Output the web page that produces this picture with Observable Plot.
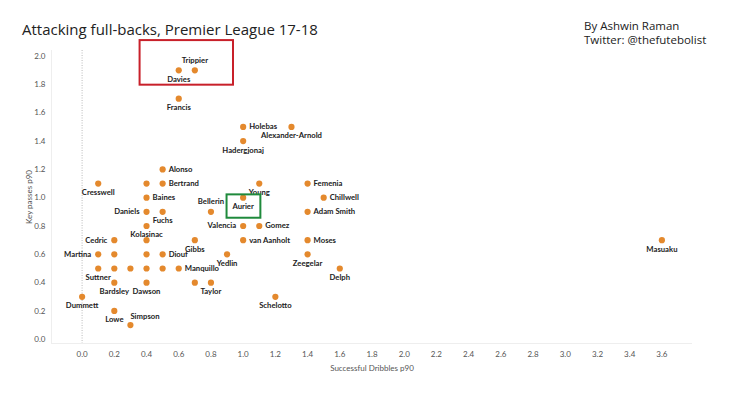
<!DOCTYPE html>
<html>
<head>
<meta charset="utf-8">
<script src="https://cdn.jsdelivr.net/npm/d3@7"></script>
<script src="https://cdn.jsdelivr.net/npm/@observablehq/plot@0.6"></script>
<style>
  html, body { margin: 0; padding: 0; background: #fff; }
  #wrap { position: relative; width: 730px; height: 397px; overflow: hidden; }
  #title { position: absolute; left: 22px; top: 19px; font-family: "Open Sans", sans-serif; font-size: 15px; color: #222; white-space: nowrap; }
  #credit { position: absolute; left: 584px; top: 19px; font-family: "Open Sans", sans-serif; font-size: 11.5px; line-height: 14px; color: #222; white-space: nowrap; }
  #chart { position: absolute; left: 0; top: 0; }
</style>
</head>
<body>
<div id="wrap">
  <div id="chart"></div>
  <div id="title">Attacking full-backs, Premier League 17-18</div>
  <div id="credit">By Ashwin Raman<br>Twitter: @thefutebolist</div>
</div>
<script>
const players = ["Trippier","Davies","Francis","Holebas","Alexander-Arnold","Hadergjonaj","Alonso","Bertrand","","Cresswell",
  "Baines","Daniels","Fuchs","Bellerin","Kolasinac","Valencia","Gomez","Young","Aurier","Femenia",
  "Chillwell","Adam Smith","Cedric","","Gibbs","van Aanholt","Moses","Masuaku","Martina","",
  "","Diouf","Yedlin","Zeegelar","Suttner","","","","","Manquillo",
  "Delph","Bardsley","Dawson","","Taylor","Dummett","Schelotto","Lowe","Simpson"];
const dribbles = [0.7,0.6,0.6,1.0,1.3,1.0,0.5,0.5,0.4,0.1,
  0.4,0.4,0.5,0.8,0.4,1.0,1.1,1.1,1.0,1.4,
  1.5,1.4,0.2,0.4,0.7,1.0,1.4,3.6,0.1,0.2,
  0.4,0.5,0.9,1.4,0.1,0.2,0.3,0.4,0.5,0.6,
  1.6,0.2,0.4,0.7,0.8,0.0,1.2,0.2,0.3];
const keyPasses = [1.9,1.9,1.7,1.5,1.5,1.4,1.2,1.1,1.1,1.1,
  1.0,0.9,0.9,0.9,0.8,0.8,0.8,1.1,1.0,1.1,
  1.0,0.9,0.7,0.7,0.7,0.7,0.7,0.7,0.6,0.6,
  0.6,0.6,0.6,0.6,0.5,0.5,0.5,0.5,0.5,0.5,
  0.5,0.4,0.4,0.4,0.4,0.3,0.3,0.2,0.1];
const labelSide = ["above","below","below","right","below","below","right","right","none","below",
  "right","left","below","above","below","left","right","below","below","right",
  "right","right","left","none","below","right","right","below","left","none",
  "none","right","below","below","below","none","none","none","none","right",
  "below","below","below","none","below","below","below","below","aboveRight"];

const xTicks = [0.0,0.2,0.4,0.6,0.8,1.0,1.2,1.4,1.6,1.8,2.0,2.2,2.4,2.6,2.8,3.0,3.2,3.4,3.6];
const yTicks = [0.0,0.2,0.4,0.6,0.8,1.0,1.2,1.4,1.6,1.8,2.0];

const highlightBoxes = [
  {x1: 0.36, x2: 0.94, y1: 1.795, y2: 2.11, color: "#c8202a"},
  {x1: 0.90, x2: 1.11, y1: 0.855, y2: 1.02, color: "#1f8a3c"}
];

const data = players.map((name, i) => ({name, x: dribbles[i], y: keyPasses[i], side: labelSide[i]}));

const labelFont = {fontSize: 7.7, fontWeight: "bold", fill: "#222", fontFamily: "Lato, sans-serif"};

const chart = Plot.plot({
  width: 730,
  height: 397,
  marginLeft: 51,
  marginRight: 38,
  marginTop: 50,
  marginBottom: 54,
  style: {fontFamily: "Lato, sans-serif", fontSize: "8px", color: "#555", background: "transparent"},
  x: {domain: [-0.19, 3.79], ticks: xTicks, tickFormat: d3.format(".1f"), tickSize: 0, tickPadding: 8,
      label: "Successful Dribbles p90", labelAnchor: "center", labelOffset: 27, labelArrow: "none"},
  y: {domain: [-0.03, 2.04], ticks: yTicks, tickFormat: d3.format(".1f"), tickSize: 0, tickPadding: 6,
      label: "Key passes p90", labelAnchor: "center", labelOffset: 25, labelArrow: "none"},
  marks: [
    Plot.ruleX([0], {stroke: "#bbb", strokeDasharray: "1,1.5", strokeWidth: 1}),
    Plot.ruleY([-0.03], {stroke: "#eee"}),
    Plot.ruleX([-0.19], {stroke: "#eee"}),
    Plot.dot(data, {x: "x", y: "y", r: 3.1, fill: "#e4892d", stroke: "none"}),
    Plot.text(data.filter(d => d.side === "right"), {x: "x", y: "y", text: "name", textAnchor: "start", dx: 6, ...labelFont}),
    Plot.text(data.filter(d => d.side === "left"), {x: "x", y: "y", text: "name", textAnchor: "end", dx: -7, ...labelFont}),
    Plot.text(data.filter(d => d.side === "below"), {x: "x", y: "y", text: "name", dy: 9, ...labelFont}),
    Plot.text(data.filter(d => d.side === "above"), {x: "x", y: "y", text: "name", dy: -10, ...labelFont}),
    Plot.text(data.filter(d => d.side === "aboveRight"), {x: "x", y: "y", text: "name", textAnchor: "start", dy: -9, ...labelFont}),
    Plot.rect(highlightBoxes, {x1: "x1", x2: "x2", y1: "y1", y2: "y2", fill: "none", stroke: "color", strokeWidth: 2})
  ]
});
document.getElementById("chart").appendChild(chart);
</script>
</body>
</html>
